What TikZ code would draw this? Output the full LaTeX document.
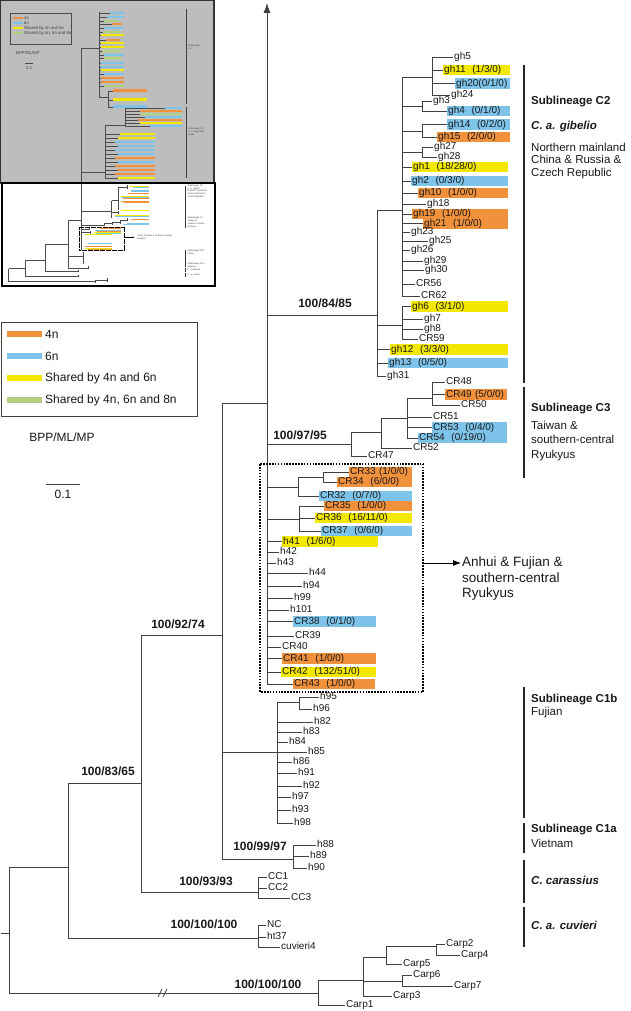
\documentclass[tikz,border=0pt]{standalone}
\usepackage{fontspec}
\setmainfont{Liberation Sans}
\usetikzlibrary{arrows.meta}
\definecolor{Line}{HTML}{404040}
\definecolor{Tetra}{HTML}{F2913C}
\definecolor{Hexa}{HTML}{7EC4EA}
\definecolor{Shared}{HTML}{F3E800}
\definecolor{Octa}{HTML}{B0D27E}
\definecolor{InsetGray}{HTML}{BDBDBD}
\tikzset{
    br/.style={draw=Line, line width=0.8pt},
    tip/.style={anchor=west, inner xsep=1pt, inner ysep=0.6pt, text height=7.3pt, text depth=2.2pt, text=black!90, font=\fontsize{10}{12}\selectfont},
    hapT/.style={tip, fill=Tetra, text width=#1},
    hapH/.style={tip, fill=Hexa, text width=#1},
    hapS/.style={tip, fill=Shared, text width=#1},
    support/.style={inner sep=0pt, text=black!90, font=\bfseries\fontsize{12}{14}\selectfont},
    clade/.style={anchor=west, inner sep=0pt, align=left, text=black!90, font=\fontsize{11.5}{12.5}\selectfont},
    cladehead/.style={clade, font=\bfseries\fontsize{11.5}{12.5}\selectfont},
    cladetaxon/.style={clade, font=\bfseries\itshape\fontsize{11.5}{12.5}\selectfont},
    cladebar/.style={draw=black!85, line width=2.6pt},
    legtext/.style={anchor=west, inner sep=1pt, text=black!90, font=\fontsize{12}{14}\selectfont},
    dotbox/.style={draw=black, line width=1.4pt, dash pattern=on 1.6pt off 1.3pt},
    mini/.style={draw=black!70, line width=0.4pt},
    minitext/.style={anchor=west, inner sep=0pt, align=left, text=black!75, font=\fontsize{2.3}{2.7}\selectfont},
    minileg/.style={anchor=west, inner sep=0pt, text=black!75, font=\fontsize{4.3}{5}\selectfont},
}
\begin{document}
\begin{tikzpicture}[x=1pt, y=-1pt]
\useasboundingbox (0,0) rectangle (630,1011);

% Inset: the whole tree in small
\fill[InsetGray] (0,0) rectangle (214,183);
\draw[black!80, line width=1.2pt] (0.6,0.6) rectangle (214,183);
\draw[mini] (10,13) rectangle (71,44);
\foreach \c/\y/\t in {Tetra/18/4n, Hexa/23/6n, Shared/28/Shared by 4n and 6n, Octa/33/{Shared by 4n, 6n and 8n}} {
    \draw[\c, line width=1.6pt] (13,\y) -- (23,\y);
    \node[minileg] at (24,\y) {\t};
}
\node[minileg] at (16,53) {BPP/ML/MP};
\draw[mini] (25,63) -- (33,63);
\node[minileg] at (26,68) {0.1};
\draw[mini] (81,48) -- (81,183) (81,48) -- (99,48) (99,12) -- (99,97);
\foreach \y/\c/\xa/\xb in {13/Hexa/110/124, 17/Hexa/107/124, 21/Octa/104/118, 24/Tetra/112/122, 28/Hexa/104/124, 32/Octa/103/120, 35/Shared/101/124, 40/Tetra/106/120, 43/Shared/101/124, 47/Shared/101/124, 51/Octa/102/121, 55/Hexa/104/124, 58/Octa/104/122, 63/Hexa/101/124, 67/Hexa/101/124, 70/Shared/101/124, 74/Hexa/104/124, 78/Tetra/101/124, 82/Tetra/101/124, 86/Octa/104/124} {
    \draw[mini] (99,\y) -- (\xa,\y);
    \fill[\c] (\xa,\y-1.3) rectangle (\xb,\y+1.3);
}
\draw[mini] (99,97) -- (108,97) (108,91) -- (108,107);
\foreach \y/\c in {91/Tetra, 100/Shared, 107/Hexa} {
    \draw[mini] (108,\y) -- (113,\y);
    \fill[\c] (113,\y-1.5) rectangle (147,\y+1.5);
}
\draw[mini] (81,172) -- (105,172) (105,125) -- (105,178) (105,125) -- (125,125) (125,108) -- (125,126);
\foreach \y/\c/\xa in {108/Hexa/165, 111/Tetra/140, 114/Octa/140, 117/Hexa/145, 120/Tetra/138, 123/Shared/140, 126/Hexa/150} {
    \draw[mini] (125,\y) -- (\xa,\y);
    \fill[\c] (\xa,\y-1.2) rectangle (182,\y+1.2);
}
\foreach \y/\c/\xa in {134/Shared/120, 138/Shared/118, 142/Hexa/115, 146/Hexa/118, 150/Hexa/115, 154/Hexa/118, 158/Tetra/115, 162/Hexa/118, 166/Tetra/115, 170/Tetra/118, 174/Tetra/115, 178/Shared/118} {
    \draw[mini] (105,\y) -- (\xa,\y);
    \fill[\c] (\xa,\y-1.4) rectangle (155,\y+1.4);
}
\draw[black!75, line width=0.9pt] (186,9) -- (186,104) (186,107) -- (186,178);
\node[minitext] at (188,47) {Sublineage\\C4};
\node[minitext] at (188,132) {Sublineage C5\\\textit{C. a. langsdorfii}\\Japan};

\fill[white] (2,183) rectangle (215,286);
\begin{scope}[shift={(6,179)}, xscale=0.28, yscale=0.1033]
    \draw[mini] (9,867) -- (9,993) (9,867) -- (68,867) (68,783) -- (68,938) (68,783) -- (141,783)
        (141,635) -- (141,892) (141,635) -- (222,635) (222,403) -- (222,859) (222,403) -- (267,403) (267,40) -- (267,684)
        (267,315) -- (377,315) (377,210) -- (377,376) (377,210) -- (402,210) (402,77) -- (402,296)
        (377,325) -- (402,325) (402,306) -- (402,339) (402,77) -- (432,77) (432,57) -- (432,95)
        (267,444) -- (351,444) (351,432) -- (351,456) (351,432) -- (381,432) (381,418) -- (381,447)
        (381,418) -- (407,418) (407,398) -- (407,438) (407,398) -- (432,398) (432,382) -- (432,405)
        (267,487) -- (298,487) (298,477) -- (298,496) (267,519) -- (299,519) (299,506) -- (299,531)
        (222,752) -- (277,752) (277,702) -- (277,823) (222,859) -- (293,859) (293,845) -- (293,868)
        (141,892) -- (258,892) (258,877) -- (258,898) (68,938) -- (258,938) (258,925) -- (258,947)
        (9,993) -- (318,993) (318,980) -- (318,1005) (318,980) -- (363,980) (363,957) -- (363,996);
    \foreach \xa/\y/\c in {443/70/Shared, 455/83/Hexa, 447/111/Hexa, 447/124/Hexa, 437/137/Tetra, 412/167/Shared, 411/181/Hexa, 418/193/Tetra, 412/214/Tetra, 423/223/Tetra, 411/306/Shared, 390/349/Shared, 388/363/Hexa, 445/394/Tetra, 432/427/Hexa, 418/438/Hexa}
        \fill[\c] (\xa,\y-5) rectangle (510,\y+5);
    \foreach \xa/\y/\c in {349/472/Tetra, 337/482/Tetra, 319/496/Hexa, 324/506/Tetra, 315/518/Shared, 321/531/Hexa}
        \fill[\c] (\xa,\y-5) rectangle (412,\y+5);
    \foreach \xa/\y/\c in {282/541/Shared, 293/621/Hexa, 282/658/Tetra, 281/672/Shared, 293/684/Tetra}
        \fill[\c] (\xa,\y-5) rectangle (377,\y+5);
    \draw[black, line width=0.6pt, dash pattern=on 0.6pt off 0.6pt] (260,464) rectangle (423,692);
    \draw[black, line width=0.4pt, -{Latex[length=2pt,width=1.6pt]}] (423,563) -- (460,563);
    \node[minitext] at (468,563) {Anhui \& Fujian \& southern-central\\Ryukyus};
    \draw[black!80, line width=0.8pt] (639,65) -- (639,383) (639,387) -- (639,478) (639,687) -- (639,818)
        (639,823) -- (639,853) (639,860) -- (639,903) (639,907) -- (639,947);
    \node[minitext] at (648,120) {Sublineage C2\\\textit{C. a. gibelio}\\Northern mainland\\China \& Russia \&\\Czech Republic};
    \node[minitext] at (648,420) {Sublineage C3\\Taiwan \&\\southern-central\\Ryukyus};
    \node[minitext] at (648,710) {Sublineage C1b\\Fujian};
    \node[minitext] at (648,836) {Sublineage C1a\\Vietnam};
    \node[minitext] at (648,880) {\textit{C. carassius}};
    \node[minitext] at (648,925) {\textit{C. a. cuvieri}};
\end{scope}
\draw[line width=2pt] (2,183) rectangle (215,286);

% Legend
\draw[draw=Line, line width=0.8pt] (1,322) rectangle (197,416);
\foreach \c/\y/\t [count=\i] in {Tetra/334/4n, Hexa/356/6n, Shared/378/Shared by 4n and 6n, Octa/400/{Shared by 4n, 6n and 8n}} {
    \fill[\c] (7,\y-2.6) rectangle (42,\y+2.6);
    \node[legtext] (leg\i) at (44,\y) {\t};
}
\node[legtext, anchor=center] (bpp) at (62,437) {BPP/ML/MP};
\draw[br] (46,484) -- (80,484);
\node[legtext, anchor=center] (scale) at (63,494) {0.1};

% Internal nodes
\coordinate (stem) at (1,933);
\coordinate (root) at (9,933);
\coordinate (R2) at (68,867);
\coordinate (R3) at (141,783);
\coordinate (A) at (222,635);
\coordinate (B) at (267,403);
\coordinate (top) at (267,3);
\coordinate (C2) at (377,315);
\coordinate (G1) at (402,210);
\coordinate (H1) at (432,77);
\coordinate (N3) at (422,106);
\coordinate (N14) at (422,131);
\coordinate (N27) at (422,152);
\coordinate (G2) at (402,325);
\coordinate (C3a) at (351,444);
\coordinate (C3b) at (381,432);
\coordinate (C3c) at (407,418);
\coordinate (N48) at (432,398);
\coordinate (D1) at (298,487);
\coordinate (D2) at (323,477);
\coordinate (D3) at (299,519);
\coordinate (C1b) at (277,752);
\coordinate (N95) at (299,702);
\coordinate (C1a) at (293,859);
\coordinate (CCn) at (258,892);
\coordinate (CV) at (258,938);
\coordinate (C0) at (318,993);
\coordinate (Cp1) at (363,980);
\coordinate (Cp2) at (386,957);
\coordinate (Cp4) at (436,946);
\coordinate (Cp3) at (402,981);

% Sublineage C2
\node[tip] (gh5) at (453,57) {gh5};
\node[hapS=65pt] (gh11) at (443,70) {gh11~~(1/3/0)};
\node[hapH=53pt] (gh20) at (455,83.5) {gh20(0/1/0)};
\node[tip] (gh24) at (450,95) {gh24};
\node[tip] (gh3) at (432,101) {gh3};
\node[hapH=61pt] (gh4) at (447,111) {gh4~~(0/1/0)};
\node[hapH=61pt] (gh14) at (447,124.5) {gh14~~(0/2/0)};
\node[hapT=71pt] (gh15) at (437,137) {gh15~~(2/0/0)};
\node[tip] (gh27) at (433,147) {gh27};
\node[tip] (gh28) at (437,157) {gh28};
\node[hapS=94pt] (gh1) at (412,167) {gh1~~(18/28/0)};
\node[hapH=95pt] (gh2) at (411,181) {gh2~~(0/3/0)};
\node[hapT=88pt] (gh10) at (418,193) {gh10~~(1/0/0)};
\node[tip] (gh18) at (426,204) {gh18};
\node[hapT=94pt] (gh19) at (412,214) {gh19~~(1/0/0)};
\node[hapT=83pt] (gh21) at (423,223.5) {gh21~~(1/0/0)};
\node[tip] (gh23) at (410,232) {gh23};
\node[tip] (gh25) at (428,241) {gh25};
\node[tip] (gh26) at (410,250) {gh26};
\node[tip] (gh29) at (423,261) {gh29};
\node[tip] (gh30) at (424,270) {gh30};
\node[tip] (CR56) at (415,284) {CR56};
\node[tip] (CR62) at (420,296) {CR62};
\node[hapS=95pt] (gh6) at (411,306.5) {gh6~~(3/1/0)};
\node[tip] (gh7) at (423,319) {gh7};
\node[tip] (gh8) at (423,329) {gh8};
\node[tip] (CR59) at (418,339) {CR59};
\node[hapS=116pt] (gh12) at (390,349.5) {gh12~~(3/3/0)};
\node[hapH=118pt] (gh13) at (388,363) {gh13~~(0/5/0)};
\node[tip] (gh31) at (386,376) {gh31};

% Sublineage C3
\node[tip] (CR48) at (445,382) {CR48};
\node[hapT=60pt] (CR49) at (445,394.5) {CR49 (5/0/0)};
\node[tip] (CR50) at (460,405) {CR50};
\node[tip] (CR51) at (432,417) {CR51};
\node[hapH=73pt] (CR53) at (432,427.5) {CR53~~(0/4/0)};
\node[hapH=87pt] (CR54) at (418,438) {CR54~~(0/19/0)};
\node[tip] (CR52) at (412,448) {CR52};
\node[tip] (CR47) at (367,456) {CR47};

% Anhui, Fujian and Ryukyus group
\node[hapT=61pt] (CR33) at (349,472) {CR33 (1/0/0)};
\node[hapT=73pt] (CR34) at (337,482) {CR34~~(6/0/0)};
\node[hapH=91pt] (CR32) at (319,496) {CR32~~(0/7/0)};
\node[hapT=86pt] (CR35) at (324,506) {CR35~~(1/0/0)};
\node[hapS=95pt] (CR36) at (315,518) {CR36~~(16/11/0)};
\node[hapH=89pt] (CR37) at (321,531) {CR37~~(0/6/0)};
\node[hapS=94pt] (h41) at (282,541.5) {h41~~(1/6/0)};
\node[tip] (h42) at (279,552) {h42};
\node[tip] (h43) at (276,563) {h43};
\node[tip] (h44) at (308,573) {h44};
\node[tip] (h94) at (302,586) {h94};
\node[tip] (h99) at (293,598) {h99};
\node[tip] (h101) at (289,610) {h101};
\node[hapH=81pt] (CR38) at (293,621.5) {CR38~~(0/1/0)};
\node[tip] (CR39) at (294,636) {CR39};
\node[tip] (CR40) at (281,647) {CR40};
\node[hapT=92pt] (CR41) at (282,658.5) {CR41~~(1/0/0)};
\node[hapS=93pt] (CR42) at (281,672) {CR42~~(132/51/0)};
\node[hapT=80pt] (CR43) at (293,684) {CR43~~(1/0/0)};

% Sublineage C1b, C1a
\node[tip] (h95) at (319,697) {h95};
\node[tip] (h96) at (312,709) {h96};
\node[tip] (h82) at (313,722) {h82};
\node[tip] (h83) at (302,732) {h83};
\node[tip] (h84) at (288,742) {h84};
\node[tip] (h85) at (307,752) {h85};
\node[tip] (h86) at (292,762) {h86};
\node[tip] (h91) at (297,773) {h91};
\node[tip] (h92) at (302,786) {h92};
\node[tip] (h97) at (291,797) {h97};
\node[tip] (h93) at (291,810) {h93};
\node[tip] (h98) at (293,823) {h98};
\node[tip] (h88) at (316,845) {h88};
\node[tip] (h89) at (309,856) {h89};
\node[tip] (h90) at (307,868) {h90};

% Outgroups
\node[tip] (CC1) at (267,877) {CC1};
\node[tip] (CC2) at (267,888) {CC2};
\node[tip] (CC3) at (290,898) {CC3};
\node[tip] (NC) at (266,925) {NC};
\node[tip] (ht37) at (266,937) {ht37};
\node[tip] (cuvieri4) at (280,947) {cuvieri4};
\node[tip] (Carp2) at (445,944) {Carp2};
\node[tip] (Carp4) at (460,955) {Carp4};
\node[tip] (Carp5) at (402,964) {Carp5};
\node[tip] (Carp6) at (412,975) {Carp6};
\node[tip] (Carp7) at (453,986) {Carp7};
\node[tip] (Carp3) at (392,996) {Carp3};
\node[tip] (Carp1) at (345,1005) {Carp1};

% Branches
\foreach \t in {gh5,gh11,gh20,gh24} \draw[br] (H1) |- (\t.west);
\foreach \t in {gh3,gh4} \draw[br] (N3) |- (\t.west);
\foreach \t in {gh14,gh15} \draw[br] (N14) |- (\t.west);
\foreach \t in {gh27,gh28} \draw[br] (N27) |- (\t.west);
\foreach \t in {H1,N3,N14,N27} \draw[br] (G1) |- (\t);
\foreach \t in {gh1,gh2,gh10,gh18,gh19,gh21,gh23,gh25,gh26,gh29,gh30,CR56,CR62} \draw[br] (G1) |- (\t.west);
\foreach \t in {gh6,gh7,gh8,CR59} \draw[br] (G2) |- (\t.west);
\foreach \t in {G1,G2} \draw[br] (C2) |- (\t);
\foreach \t in {gh12,gh13,gh31} \draw[br] (C2) |- (\t.west);
\foreach \t in {CR48,CR49,CR50} \draw[br] (N48) |- (\t.west);
\draw[br] (C3c) |- (N48);
\foreach \t in {CR51,CR53,CR54} \draw[br] (C3c) |- (\t.west);
\draw[br] (C3b) |- (C3c) (C3b) |- (CR52.west);
\draw[br] (C3a) |- (C3b) (C3a) |- (CR47.west);
\foreach \t in {CR33,CR34} \draw[br] (D2) |- (\t.west);
\draw[br] (D1) |- (D2) (D1) |- (CR32.west);
\foreach \t in {CR35,CR36,CR37} \draw[br] (D3) |- (\t.west);
\foreach \t in {C2,C3a,D1,D3} \draw[br] (B) |- (\t);
\foreach \t in {h41,h42,h43,h44,h94,h99,h101,CR38,CR39,CR40,CR41,CR42,CR43} \draw[br] (B) |- (\t.west);
\draw[br, -{Latex[length=10pt,width=7pt]}] (B) -- (top);
\foreach \t in {h95,h96} \draw[br] (N95) |- (\t.west);
\draw[br] (C1b) |- (N95);
\foreach \t in {h82,h83,h84,h85,h86,h91,h92,h97,h93,h98} \draw[br] (C1b) |- (\t.west);
\foreach \t in {h88,h89,h90} \draw[br] (C1a) |- (\t.west);
\foreach \t in {B,C1b,C1a} \draw[br] (A) |- (\t);
\foreach \t in {CC1,CC2,CC3} \draw[br] (CCn) |- (\t.west);
\foreach \t in {NC,ht37,cuvieri4} \draw[br] (CV) |- (\t.west);
\draw[br] (R3) |- (A) (R3) |- (CCn);
\draw[br] (R2) |- (R3) (R2) |- (CV);
\foreach \t in {Carp2,Carp4} \draw[br] (Cp4) |- (\t.west);
\draw[br] (Cp2) |- (Cp4) (Cp2) |- (Carp5.west);
\foreach \t in {Carp6,Carp7} \draw[br] (Cp3) |- (\t.west);
\draw[br] (Cp1) |- (Cp2) (Cp1) |- (Cp3) (Cp1) |- (Carp3.west);
\draw[br] (C0) |- (Cp1) (C0) |- (Carp1.west);
\draw[br] (root) |- (R2) (root) |- (C0) (stem) -- (root);
% broken branch
\draw[br] (158,997) -- (162,989) (163,997) -- (167,989);

% Support values
\node[support] (bsC2) at (325,303) {100/84/85};
\node[support] (bsC3) at (300,435) {100/97/95};
\node[support] (bsA) at (178,624) {100/92/74};
\node[support] (bsR3) at (108,771) {100/83/65};
\node[support] (bsC1a) at (260,846) {100/99/97};
\node[support] (bsCC) at (206,881) {100/93/93};
\node[support] (bsCV) at (204,924) {100/100/100};
\node[support] (bsCarp) at (268,984) {100/100/100};

% Dotted group and its label
\draw[dotbox] (260,464) rectangle (423,692);
\coordinate (boxR) at (423,563);
\node[anchor=north west, align=left, inner sep=1pt, text=black!90, font=\fontsize{13.5}{15.5}\selectfont] (anhui) at (461,556) {Anhui \& Fujian \&\\southern-central\\Ryukyus};
\draw[draw=black, line width=0.8pt, -{Latex[length=8pt,width=6pt]}] (boxR) -- (boxR -| anhui.west);

% Clade bars and names
\draw[cladebar] (524,65) -- (524,383);
\draw[cladebar] (524,387) -- (524,478);
\draw[cladebar] (524,687) -- (524,818);
\draw[cladebar] (524,823) -- (524,853);
\draw[cladebar] (524,860) -- (524,903);
\draw[cladebar] (524,907) -- (524,947);
\node[cladehead] (labC2) at (531,102) {Sublineage C2};
\node[cladetaxon] (gibelio) at (531,127) {C. a. gibelio};
\node[clade, anchor=north west] (areaC2) at (531,142.5) {Northern mainland\\China \& Russia \&\\Czech Republic};
\node[cladehead] (labC3) at (531,409) {Sublineage C3};
\node[clade, anchor=north west, font=\fontsize{11.5}{14.5}\selectfont] (areaC3) at (531,420.5) {Taiwan \&\\southern-central\\Ryukyus};
\node[cladehead] (labC1b) at (531,700) {Sublineage C1b};
\node[clade] (areaC1b) at (531,713) {Fujian};
\node[cladehead] (labC1a) at (531,830) {Sublineage C1a};
\node[clade] (areaC1a) at (531,843) {Vietnam};
\node[cladetaxon] (carassius) at (531,880) {C. carassius};
\node[cladetaxon] (cuvieri) at (531,925) {C. a. cuvieri};
\end{tikzpicture}
\end{document}
